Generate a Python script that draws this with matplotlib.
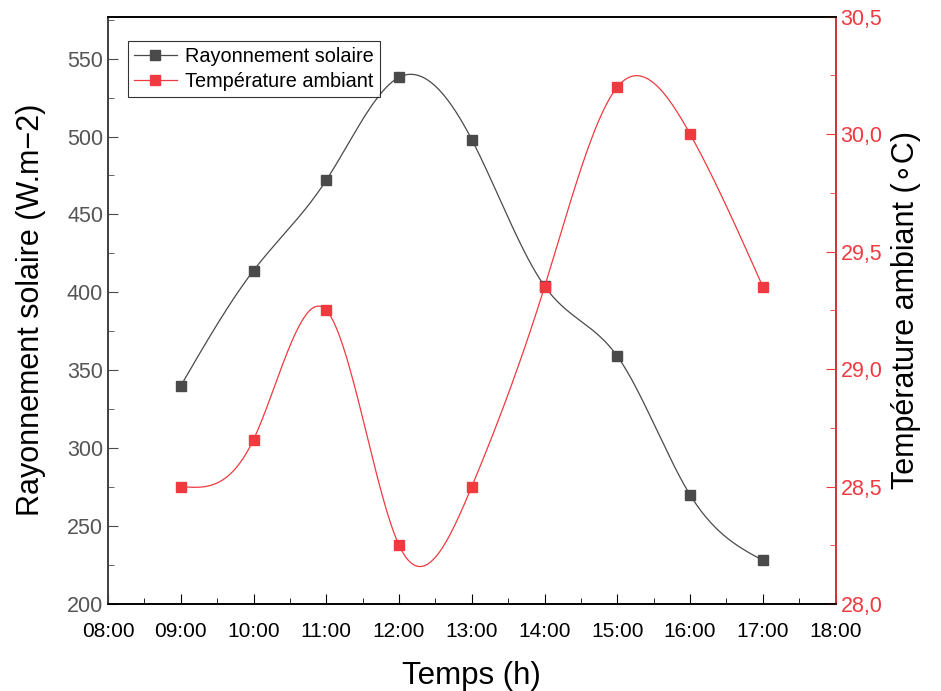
import numpy as np
import matplotlib
matplotlib.use('Agg')
import matplotlib.pyplot as plt
from matplotlib.ticker import MultipleLocator, FuncFormatter

plt.rcParams['font.family'] = ['Liberation Sans', 'DejaVu Sans']

# data
heures = [9, 10, 11, 12, 13, 14, 15, 16, 17]
rayonnement = [340, 414, 472, 538, 498, 404, 359, 270, 228]
temperature = [28.5, 28.7, 29.25, 28.25, 28.5, 29.35, 30.2, 30.0, 29.35]

GRIS = '#4a4a4a'
ROUGE = '#ef3a40'


def spline_naturelle(x, y, xs):
    # natural cubic spline, like Origin's "Spline" line connection
    x = np.asarray(x, float)
    y = np.asarray(y, float)
    n = len(x)
    h = np.diff(x)
    A = np.zeros((n, n))
    b = np.zeros(n)
    A[0, 0] = 1
    A[-1, -1] = 1
    for i in range(1, n - 1):
        A[i, i - 1] = h[i - 1]
        A[i, i] = 2 * (h[i - 1] + h[i])
        A[i, i + 1] = h[i]
        b[i] = 6 * ((y[i + 1] - y[i]) / h[i] - (y[i] - y[i - 1]) / h[i - 1])
    M = np.linalg.solve(A, b)
    idx = np.clip(np.searchsorted(x, xs) - 1, 0, n - 2)
    x0, x1 = x[idx], x[idx + 1]
    hh = x1 - x0
    t0 = x1 - xs
    t1 = xs - x0
    return (M[idx] * t0 ** 3 / (6 * hh) + M[idx + 1] * t1 ** 3 / (6 * hh)
            + (y[idx] / hh - M[idx] * hh / 6) * t0
            + (y[idx + 1] / hh - M[idx + 1] * hh / 6) * t1)


xs = np.linspace(heures[0], heures[-1], 400)

fig = plt.figure(figsize=(9.41, 6.91), dpi=100)
ax = fig.add_axes([0.1148, 0.1259, 0.7732, 0.8502])
ax2 = ax.twinx()

ax.plot(xs, spline_naturelle(heures, rayonnement, xs), color=GRIS, lw=0.9)
ax.plot(heures, rayonnement, ls='none', marker='s', ms=7.5, color=GRIS,
        mec=GRIS)
ax2.plot(xs, spline_naturelle(heures, temperature, xs), color=ROUGE, lw=0.9)
ax2.plot(heures, temperature, ls='none', marker='s', ms=7.5, color=ROUGE,
         mec=ROUGE)

# legend proxies (line + marker)
h1, = ax.plot([], [], color=GRIS, lw=0.9, marker='s', ms=7.5,
              label='Rayonnement solaire')
h2, = ax.plot([], [], color=ROUGE, lw=0.9, marker='s', ms=7.5,
              label='Température ambiant')
leg = ax.legend(handles=[h1, h2], loc='upper left',
                bbox_to_anchor=(0.027, 0.958), fontsize=14.3, frameon=True,
                fancybox=False, edgecolor='black', borderpad=0.3,
                handlelength=2.2, handletextpad=0.4, labelspacing=0.28,
                borderaxespad=0)
leg.get_frame().set_linewidth(0.8)

ax.set_xlim(8, 18)
ax.set_ylim(200, 577)
ax2.set_ylim(28.0, 30.5)

ax.xaxis.set_major_locator(MultipleLocator(1))
ax.xaxis.set_minor_locator(MultipleLocator(0.5))
ax.xaxis.set_major_formatter(FuncFormatter(lambda v, p: '%02d:00' % int(round(v))))
ax.yaxis.set_major_locator(MultipleLocator(50))
ax.yaxis.set_minor_locator(MultipleLocator(25))
ax2.yaxis.set_major_locator(MultipleLocator(0.5))
ax2.yaxis.set_minor_locator(MultipleLocator(0.25))
ax2.yaxis.set_major_formatter(FuncFormatter(lambda v, p: ('%.1f' % v).replace('.', ',')))

ax.tick_params(axis='x', which='both', direction='in', top=False,
               labelsize=15, colors='black', pad=13)
ax.tick_params(axis='x', which='major', length=7)
ax.tick_params(axis='x', which='minor', length=4)
ax.tick_params(axis='y', which='both', direction='in', colors=GRIS,
               labelsize=15.5, labelcolor='#555555')
ax.tick_params(axis='y', which='major', length=7)
ax.tick_params(axis='y', which='minor', length=4)
ax2.tick_params(axis='y', which='both', direction='in', colors=ROUGE,
                labelsize=15.5, labelcolor=ROUGE)
ax2.tick_params(axis='y', which='major', length=7)
ax2.tick_params(axis='y', which='minor', length=4)

for a in (ax, ax2):
    for s in a.spines.values():
        s.set_linewidth(1.2)
ax2.spines['left'].set_color(GRIS)
ax2.spines['right'].set_color(ROUGE)
ax2.spines['top'].set_color('black')
ax2.spines['bottom'].set_color('black')

ax.set_xlabel('Temps (h)', fontsize=22.5, labelpad=14)
ax.set_ylabel('Rayonnement solaire (W.m\u22122)', fontsize=22, labelpad=15)
ax2.set_ylabel('Température ambiant (\u2218C)', fontsize=22, labelpad=6)

fig.savefig('out.png', dpi=100)
